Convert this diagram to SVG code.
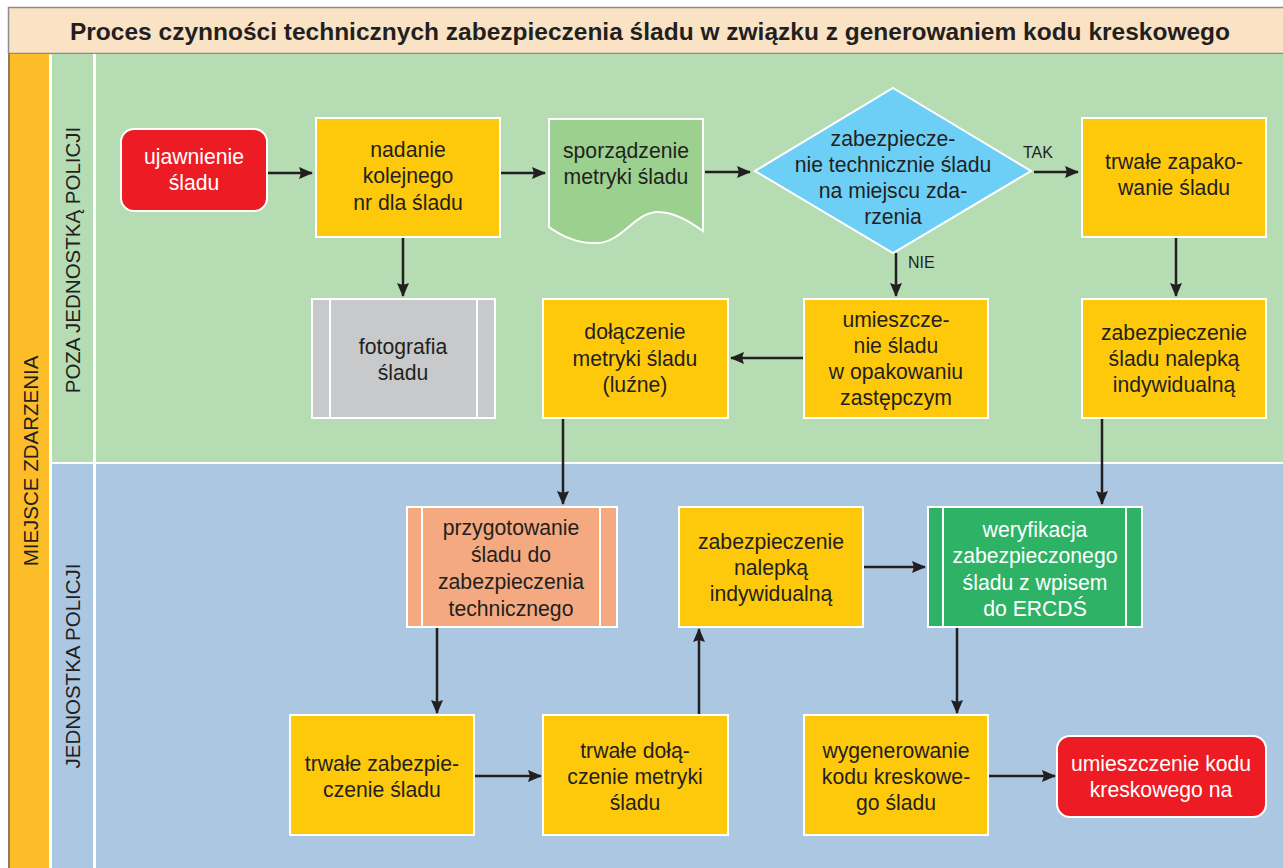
<svg xmlns="http://www.w3.org/2000/svg" width="1283" height="868" viewBox="0 0 1283 868">
<style>
text{font-family:"Liberation Sans",Arial,sans-serif;fill:#231F20;}
.t{font-size:21.2px;text-anchor:middle;}
.w{fill:#FFFFFF;}
.lab{font-size:20.5px;text-anchor:middle;}
.yl{fill:#FFC90B;stroke:#FFFFFF;stroke-width:2;}
.rd{fill:#ED1C24;stroke:#FFFFFF;stroke-width:2;}
.sep{stroke:#FFFFFF;stroke-width:2;fill:none;}
.c{stroke:#231F20;stroke-width:2.5;fill:none;marker-end:url(#ah);}
.cl{font-size:16px;}
</style>
<defs>
<marker id="ah" markerWidth="14" markerHeight="12" refX="13" refY="6" orient="auto" markerUnits="userSpaceOnUse">
<path d="M0,0 L14,6 L0,12 L2,6 Z" fill="#231F20"/>
</marker>
</defs>
<rect x="0" y="0" width="1283" height="868" fill="#FFFFFF"/>
<g id="background">
<rect x="8" y="7" width="1275" height="47" fill="#FAE3C4"/>
<line x1="8" y1="7.5" x2="1283" y2="7.5" stroke="#8C8C8C" stroke-width="1.5"/>
<line x1="8" y1="53.5" x2="1283" y2="53.5" stroke="#8C8C8C" stroke-width="1.5"/>
<line x1="8.5" y1="7" x2="8.5" y2="54" stroke="#8C8C8C" stroke-width="1.5"/>
<text x="650" y="40" style="font-size:24.5px;font-weight:bold;text-anchor:middle;">Proces czynności technicznych zabezpieczenia śladu w związku z generowaniem kodu kreskowego</text>
<rect x="9" y="54" width="40" height="814" fill="#FDBD29"/>
<line x1="9" y1="54" x2="9" y2="868" stroke="#8B7B5B" stroke-width="2"/>
<rect x="52" y="54" width="1231" height="408" fill="#B6DCB3"/>
<rect x="52" y="464" width="1231" height="404" fill="#ACC7E1"/>
<rect x="93" y="54" width="3" height="814" fill="#FFFFFF"/>
<text class="lab" transform="translate(38,461) rotate(-90)">MIEJSCE ZDARZENIA</text>
<text class="lab" transform="translate(80,260) rotate(-90)">POZA JEDNOSTKĄ POLICJI</text>
<text class="lab" transform="translate(80,666) rotate(-90)">JEDNOSTKA POLICJI</text>
</g>
<g id="connectors">
<line class="c" x1="268" y1="173" x2="312" y2="173"/>
<line class="c" x1="501" y1="173" x2="545" y2="173"/>
<line class="c" x1="705" y1="172" x2="750" y2="172"/>
<line class="c" x1="1034" y1="172" x2="1078" y2="172"/>
<text class="cl" x="1023" y="158">TAK</text>
<line class="c" x1="896" y1="253" x2="896" y2="296"/>
<text class="cl" x="908" y="268">NIE</text>
<line class="c" x1="403" y1="238" x2="403" y2="296"/>
<line class="c" x1="1176" y1="238" x2="1176" y2="296"/>
<line class="c" x1="804" y1="358" x2="731" y2="358"/>
<line class="c" x1="563" y1="419" x2="563" y2="504"/>
<line class="c" x1="1102" y1="419" x2="1102" y2="504"/>
<line class="c" x1="437" y1="628" x2="437" y2="713"/>
<line class="c" x1="475" y1="776" x2="541" y2="776"/>
<line class="c" x1="699" y1="714" x2="699" y2="629"/>
<line class="c" x1="864" y1="567" x2="925" y2="567"/>
<line class="c" x1="957" y1="628" x2="957" y2="713"/>
<line class="c" x1="989" y1="776" x2="1055" y2="776"/>
</g>
<g id="n1">
<rect class="rd" x="121" y="129" width="146" height="82" rx="13"/>
<text class="t w" x="194" y="164">ujawnienie</text>
<text class="t w" x="194" y="190">śladu</text>
</g>
<g id="n2">
<rect class="yl" x="316" y="118" width="184" height="119"/>
<text class="t" x="408" y="157">nadanie</text>
<text class="t" x="408" y="183">kolejnego</text>
<text class="t" x="408" y="210">nr dla śladu</text>
</g>
<g id="n3">
<path d="M549,119 H703 V231 C690,222 675,212 658,212 C635,212 622,242 598,243 C578,244 560,235 549,227 Z" fill="#9BD08F" stroke="#FFFFFF" stroke-width="2"/>
<text class="t" x="626" y="158">sporządzenie</text>
<text class="t" x="626" y="184">metryki śladu</text>
</g>
<g id="n4">
<path d="M893,88 L1031,171 L893,253 L755,171 Z" fill="#6DCFF6" stroke="#FFFFFF" stroke-width="2"/>
<text class="t" x="893" y="146">zabezpiecze-</text>
<text class="t" x="893" y="172">nie technicznie śladu</text>
<text class="t" x="893" y="198">na miejscu zda-</text>
<text class="t" x="893" y="224">rzenia</text>
</g>
<g id="n5">
<rect class="yl" x="1082" y="118" width="184" height="119"/>
<text class="t" x="1174" y="169">trwałe zapako-</text>
<text class="t" x="1174" y="195">wanie śladu</text>
</g>
<g id="n6">
<rect x="312" y="299" width="183" height="119" fill="#C8C9CB" stroke="#FFFFFF" stroke-width="2"/>
<line class="sep" x1="330" y1="299" x2="330" y2="418"/>
<line class="sep" x1="477" y1="299" x2="477" y2="418"/>
<text class="t" x="403" y="354">fotografia</text>
<text class="t" x="403" y="380">śladu</text>
</g>
<g id="n7">
<rect class="yl" x="543" y="299" width="185" height="119"/>
<text class="t" x="635" y="339">dołączenie</text>
<text class="t" x="635" y="366">metryki śladu</text>
<text class="t" x="635" y="392">(luźne)</text>
</g>
<g id="n8">
<rect class="yl" x="804" y="299" width="184" height="119"/>
<text class="t" x="896" y="327">umieszcze-</text>
<text class="t" x="896" y="353">nie śladu</text>
<text class="t" x="896" y="379">w opakowaniu</text>
<text class="t" x="896" y="405">zastępczym</text>
</g>
<g id="n9">
<rect class="yl" x="1082" y="299" width="184" height="119"/>
<text class="t" x="1174" y="340">zabezpieczenie</text>
<text class="t" x="1174" y="366">śladu nalepką</text>
<text class="t" x="1174" y="392">indywidualną</text>
</g>
<g id="n10">
<rect x="407" y="507" width="210" height="120" fill="#F4A980" stroke="#FFFFFF" stroke-width="2"/>
<line class="sep" x1="422" y1="507" x2="422" y2="627"/>
<line class="sep" x1="600" y1="507" x2="600" y2="627"/>
<text class="t" x="511" y="535">przygotowanie</text>
<text class="t" x="511" y="562">śladu do</text>
<text class="t" x="511" y="589">zabezpieczenia</text>
<text class="t" x="511" y="616">technicznego</text>
</g>
<g id="n11">
<rect class="yl" x="679" y="507" width="184" height="120"/>
<text class="t" x="771" y="549">zabezpieczenie</text>
<text class="t" x="771" y="575">nalepką</text>
<text class="t" x="771" y="601">indywidualną</text>
</g>
<g id="n12">
<rect x="928" y="507" width="214" height="120" fill="#2EB366" stroke="#FFFFFF" stroke-width="2"/>
<line class="sep" x1="943" y1="507" x2="943" y2="627"/>
<line class="sep" x1="1126" y1="507" x2="1126" y2="627"/>
<text class="t w" x="1035" y="537">weryfikacja</text>
<text class="t w" x="1035" y="563">zabezpieczonego</text>
<text class="t w" x="1035" y="590">śladu z wpisem</text>
<text class="t w" x="1035" y="616">do ERCDŚ</text>
</g>
<g id="n13">
<rect class="yl" x="290" y="715" width="184" height="120"/>
<text class="t" x="382" y="771">trwałe zabezpie-</text>
<text class="t" x="382" y="797">czenie śladu</text>
</g>
<g id="n14">
<rect class="yl" x="543" y="715" width="185" height="120"/>
<text class="t" x="635" y="758">trwałe dołą-</text>
<text class="t" x="635" y="784">czenie metryki</text>
<text class="t" x="635" y="810">śladu</text>
</g>
<g id="n15">
<rect class="yl" x="804" y="715" width="184" height="120"/>
<text class="t" x="896" y="758">wygenerowanie</text>
<text class="t" x="896" y="784">kodu kreskowe-</text>
<text class="t" x="896" y="810">go śladu</text>
</g>
<g id="n16">
<rect class="rd" x="1057" y="736" width="209" height="81" rx="13"/>
<text class="t w" x="1161" y="771">umieszczenie kodu</text>
<text class="t w" x="1161" y="797">kreskowego na</text>
</g>
</svg>
